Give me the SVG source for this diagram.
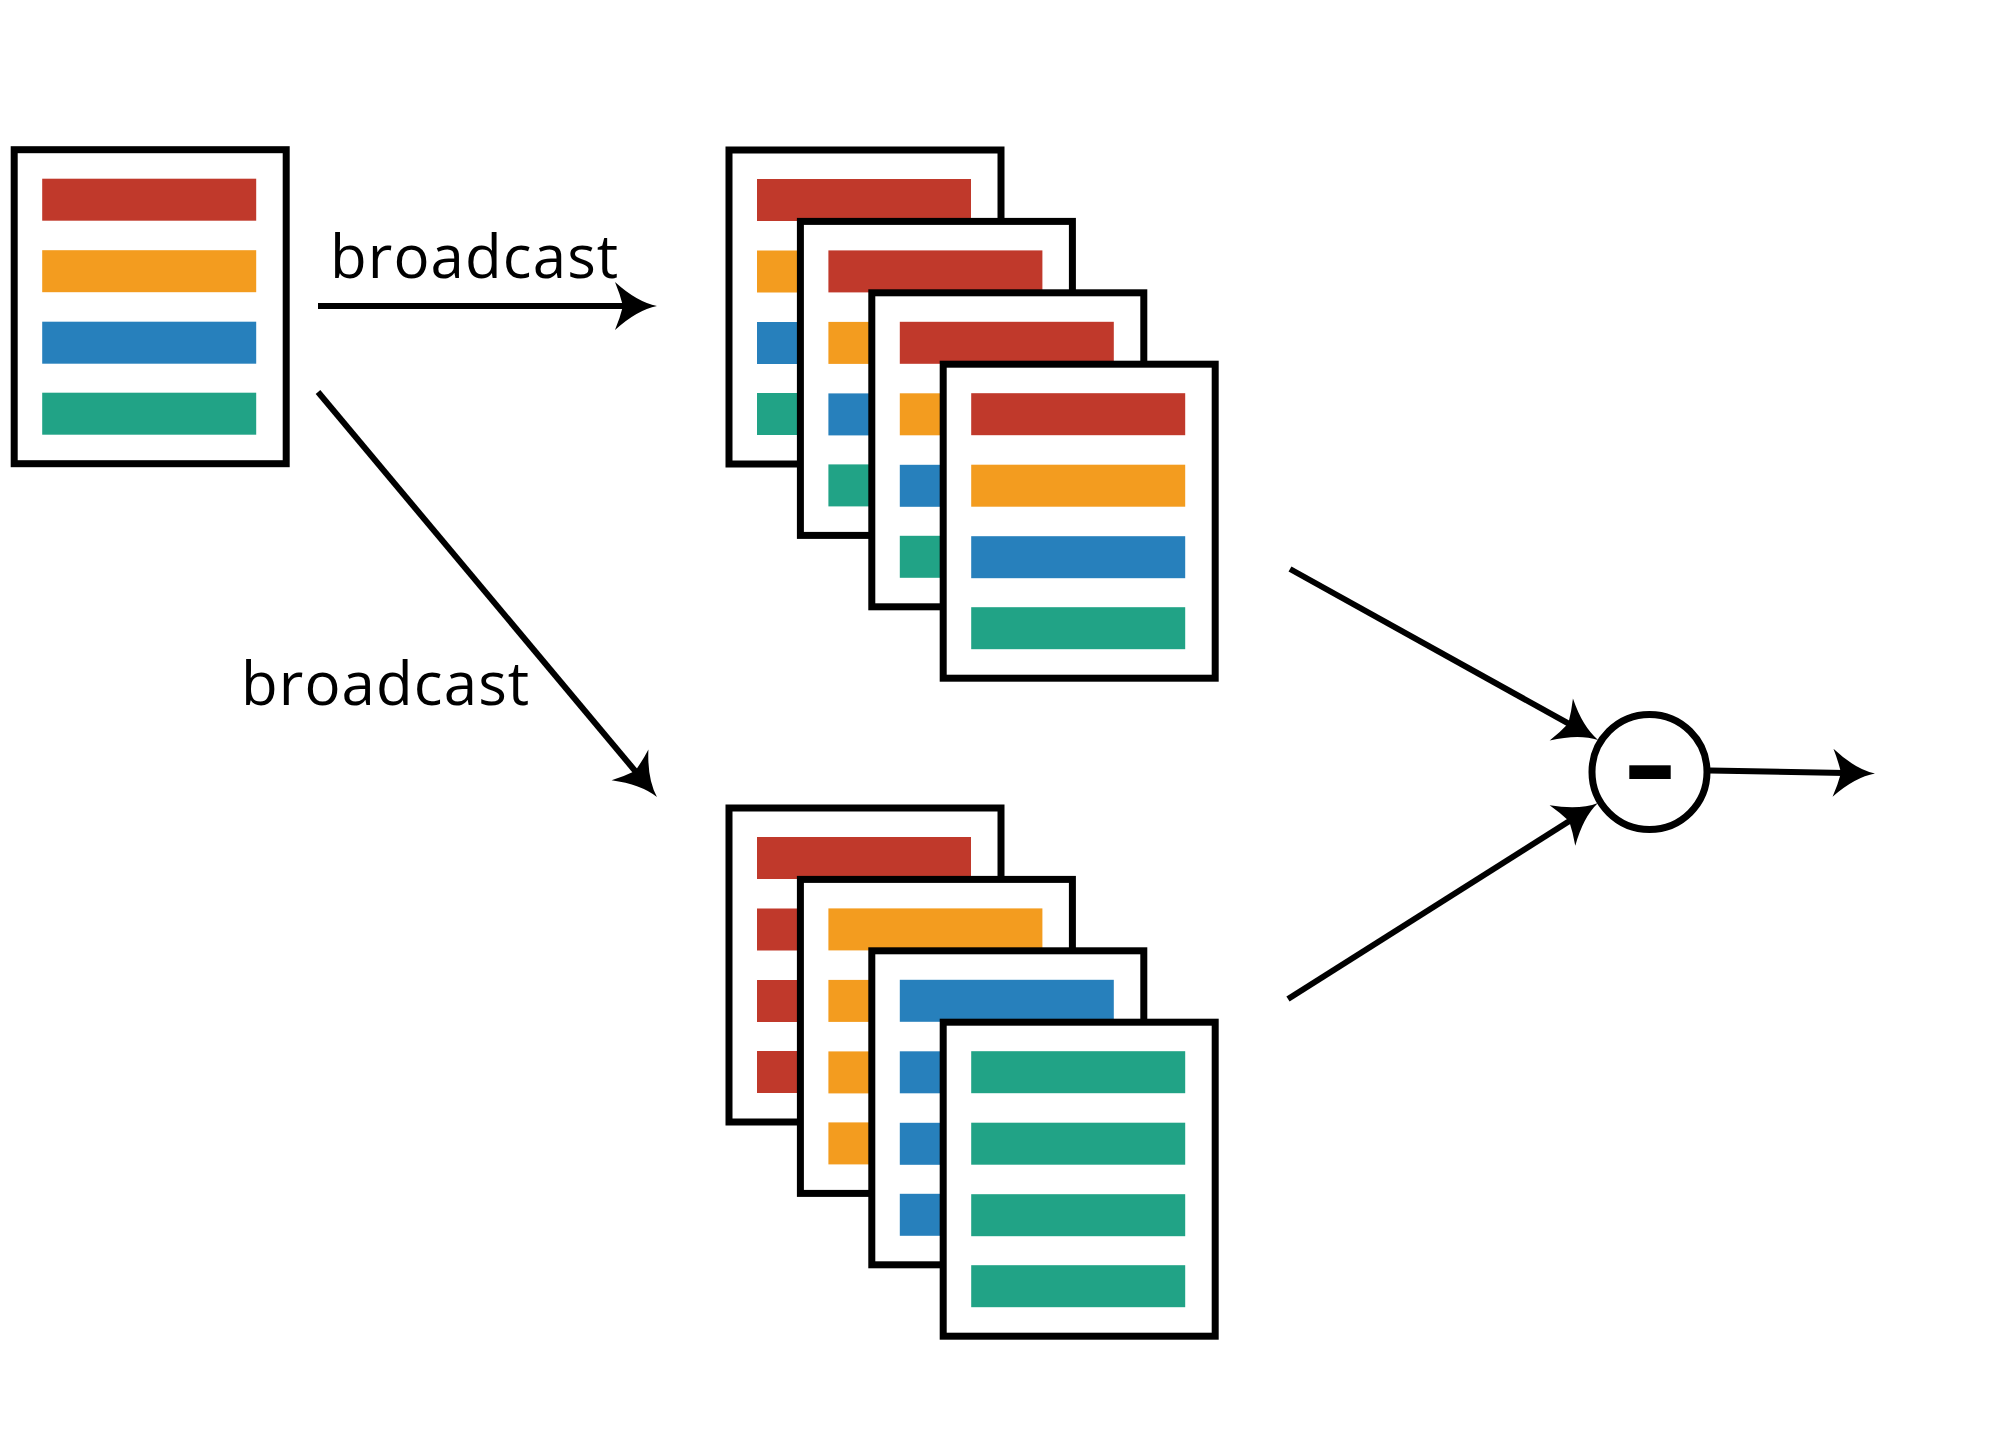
<svg xmlns="http://www.w3.org/2000/svg" width="2000" height="1429" viewBox="0 0 2000 1429">
<style>
.frame{fill:#fff;stroke:#000;stroke-width:7}
.r{fill:#c0392b}.o{fill:#f39c1f}.b{fill:#2780bc}.g{fill:#21a386}
.conn{fill:none;stroke:#000;stroke-width:6}
.lbl{font-family:"Open Sans","Noto Sans","Liberation Sans",sans-serif;font-size:60px;letter-spacing:1.1px;fill:#000}
</style>
<defs>
<marker id="ah" markerUnits="userSpaceOnUse" viewBox="-46 -27 50 54" markerWidth="50" markerHeight="54" refX="-30" refY="0" orient="auto">
<path d="M 0,0 Q -20,4 -42,24 Q -37,12 -34,0 Q -37,-12 -42,-24 Q -20,-4 0,0 Z" fill="#000"/>
</marker>
<g id="bars4">
<rect class="r" x="28" y="29" width="214" height="42"/>
<rect class="o" x="28" y="100.5" width="214" height="42"/>
<rect class="b" x="28" y="172" width="214" height="42"/>
<rect class="g" x="28" y="243" width="214" height="42"/>
</g>
</defs>
<rect width="2000" height="1429" fill="#fff"/>

<g id="source" transform="translate(14.2,149.7)">
<rect class="frame" x="0" y="0" width="272" height="314"/>
<use href="#bars4"/>
</g>

<g id="rowcopy1" transform="translate(729,150)">
<rect class="frame" x="0" y="0" width="272" height="314"/>
<use href="#bars4"/>
</g>
<g id="rowcopy2" transform="translate(800.4,221.4)">
<rect class="frame" x="0" y="0" width="272" height="314"/>
<use href="#bars4"/>
</g>
<g id="rowcopy3" transform="translate(871.8,292.8)">
<rect class="frame" x="0" y="0" width="272" height="314"/>
<use href="#bars4"/>
</g>
<g id="rowcopy4" transform="translate(943.2,364.2)">
<rect class="frame" x="0" y="0" width="272" height="314"/>
<use href="#bars4"/>
</g>

<g id="colcopy1" transform="translate(729,808)">
<rect class="frame" x="0" y="0" width="272" height="314"/>
<rect class="r" x="28" y="29" width="214" height="42"/>
<rect class="r" x="28" y="100.5" width="214" height="42"/>
<rect class="r" x="28" y="172" width="214" height="42"/>
<rect class="r" x="28" y="243" width="214" height="42"/>
</g>
<g id="colcopy2" transform="translate(800.4,879.4)">
<rect class="frame" x="0" y="0" width="272" height="314"/>
<rect class="o" x="28" y="29" width="214" height="42"/>
<rect class="o" x="28" y="100.5" width="214" height="42"/>
<rect class="o" x="28" y="172" width="214" height="42"/>
<rect class="o" x="28" y="243" width="214" height="42"/>
</g>
<g id="colcopy3" transform="translate(871.8,950.8)">
<rect class="frame" x="0" y="0" width="272" height="314"/>
<rect class="b" x="28" y="29" width="214" height="42"/>
<rect class="b" x="28" y="100.5" width="214" height="42"/>
<rect class="b" x="28" y="172" width="214" height="42"/>
<rect class="b" x="28" y="243" width="214" height="42"/>
</g>
<g id="colcopy4" transform="translate(943.2,1022.2)">
<rect class="frame" x="0" y="0" width="272" height="314"/>
<rect class="g" x="28" y="29" width="214" height="42"/>
<rect class="g" x="28" y="100.5" width="214" height="42"/>
<rect class="g" x="28" y="172" width="214" height="42"/>
<rect class="g" x="28" y="243" width="214" height="42"/>
</g>

<g id="minus-op">
<circle cx="1649.5" cy="772" r="57.5" fill="#fff" stroke="#000" stroke-width="7"/>
<rect x="1629.3" y="765.3" width="41.4" height="13.7" fill="#000"/>
</g>

<g id="connectors">
<line class="conn" x1="318" y1="306" x2="627" y2="306" marker-end="url(#ah)"/>
<line class="conn" x1="318" y1="392" x2="637.7" y2="774" marker-end="url(#ah)"/>
<line class="conn" x1="1290" y1="569" x2="1571.8" y2="725.4" marker-end="url(#ah)"/>
<line class="conn" x1="1288" y1="999" x2="1572.6" y2="819" marker-end="url(#ah)"/>
<line class="conn" x1="1710" y1="770.5" x2="1845" y2="773" marker-end="url(#ah)"/>
</g>

<g id="labels">
<text class="lbl" x="330" y="278">broadcast</text>
<text class="lbl" x="241" y="705">broadcast</text>
</g>
</svg>
